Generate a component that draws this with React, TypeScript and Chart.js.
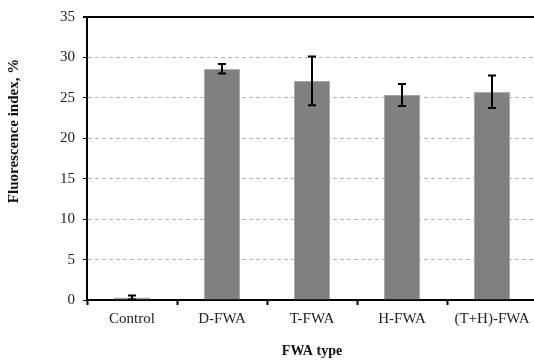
import React, { useEffect, useRef } from "react";
import { Chart, registerables } from "chart.js";

Chart.register(...registerables);

const categories = ["Control", "D-FWA", "T-FWA", "H-FWA", "(T+H)-FWA"];
const values = [0.3, 28.6, 27.1, 25.35, 25.75];
const errors = [0.25, 0.6, 3.0, 1.35, 2.0];
const yTicks = [0, 5, 10, 15, 20, 25, 30, 35];
const yTitle = "Fluorescence index, %";
const xTitle = "FWA type";

const FONT = "'Liberation Serif', 'DejaVu Serif', serif";

const errorBarPlugin = {
  id: "errorBars",
  afterDatasetsDraw(chart: any) {
    const meta = chart.getDatasetMeta(0);
    const y = chart.scales.y;
    const ctx = chart.ctx;
    ctx.save();
    ctx.strokeStyle = "#000";
    ctx.lineWidth = 2;
    meta.data.forEach((bar: any, i: number) => {
      const x = bar.x;
      const top = y.getPixelForValue(values[i] + errors[i]);
      const bot = y.getPixelForValue(values[i] - errors[i]);
      ctx.beginPath();
      ctx.moveTo(x, top);
      ctx.lineTo(x, bot);
      ctx.moveTo(x - 4, top);
      ctx.lineTo(x + 4, top);
      ctx.moveTo(x - 4, bot);
      ctx.lineTo(x + 4, bot);
      ctx.stroke();
    });
    const area = chart.chartArea;
    ctx.lineWidth = 2;
    ctx.beginPath();
    const ty = y.getPixelForValue(35);
    ctx.moveTo(area.left - 4, ty);
    ctx.lineTo(area.right, ty);
    ctx.stroke();
    // y axis title
    ctx.fillStyle = "#111";
    ctx.font = "bold 15px " + FONT;
    ctx.textAlign = "center";
    ctx.textBaseline = "middle";
    ctx.translate(14, 131);
    ctx.rotate(-Math.PI / 2);
    ctx.fillText(yTitle, 0, 0);
    ctx.restore();
  },
};

export default function App() {
  const ref = useRef<HTMLCanvasElement>(null);
  useEffect(() => {
    if (!ref.current) return;
    const chart = new Chart(ref.current, {
      type: "bar",
      data: {
        labels: categories,
        datasets: [
          {
            data: values,
            backgroundColor: "#808080",
            borderColor: "#a8a8a8",
            borderWidth: 1,
            barPercentage: 0.4,
            categoryPercentage: 1,
          },
        ],
      },
      options: {
        animation: false,
        responsive: true,
        maintainAspectRatio: false,
        layout: { padding: { top: 15, left: 0, right: 0, bottom: 0 } },
        plugins: {
          legend: { display: false },
          tooltip: { enabled: false },
        },
        scales: {
          x: {
            offset: true,
            grid: {
              offset: true,
              drawOnChartArea: false,
              drawTicks: true,
              tickLength: 5,
              tickColor: "#000",
              tickWidth: 2,
            },
            border: { color: "#000", width: 2 },
            ticks: {
              color: "#222",
              font: { family: FONT, size: 15 },
              padding: 5,
            },
            title: {
              display: true,
              text: xTitle,
              color: "#111",
              font: { family: FONT, size: 14, weight: "bold" },
              padding: { top: 8, bottom: 0 },
            },
            afterFit: (s: any) => {
              s.height = 60;
            },
          },
          y: {
            min: 0,
            max: 35,
            afterBuildTicks: (s: any) => {
              s.ticks = yTicks.map((v) => ({ value: v }));
            },
            grid: {
              color: (c: any) =>
                c.tick && (c.tick.value === 0 || c.tick.value === 35)
                  ? "rgba(0,0,0,0)"
                  : "#b4b4b4",
              lineWidth: 1,
              tickLength: 4,
              tickColor: "#000",
              tickWidth: 1,
            },
            border: { color: "#000", width: 2, dash: [4, 3] },
            ticks: {
              color: "#222",
              font: { family: FONT, size: 15 },
              padding: 8,
            },
            title: { display: false },
            afterFit: (s: any) => {
              s.width = 87;
            },
          },
        },
      },
      plugins: [errorBarPlugin],
    });
    return () => chart.destroy();
  }, []);

  return (
    <div
      style={{
        position: "fixed",
        left: 0,
        top: 0,
        width: 534,
        height: 360,
        overflow: "hidden",
        background: "#fff",
      }}
    >
      <div style={{ width: 537, height: 360, position: "relative" }}>
        <canvas ref={ref} />
      </div>
    </div>
  );
}
